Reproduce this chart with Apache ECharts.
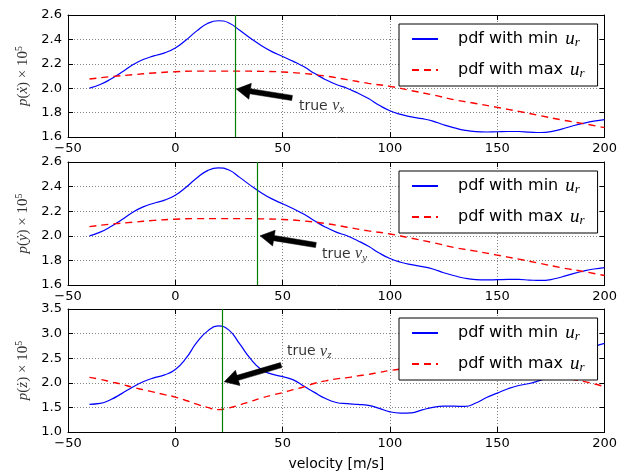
<!DOCTYPE html>
<html><head><meta charset="utf-8">
<script src="https://cdn.jsdelivr.net/npm/echarts@6/dist/echarts.min.js"></script>
<style>html,body{margin:0;padding:0;background:#fff}#c{width:620px;height:475px}</style>
</head><body><div id="c"></div>
<script>
// velocity grids (m/s)
const velFine = [-40,-35,-30,-25,-20,-15,-10,-5,0,5,10,15,20,25,30,35,40,45,50,55,60,65,70,75,80,85,90,95,100,105,110,115,120,125,130,135,140,145,150,155,160,165,170,175,180,185,190,195,200];
const velCoarse = [-40,-30,-20,-10,0,10,20,30,40,50,60,70,80,90,100,110,120,130,140,150,160,170,180,190,200];

// p(x_dot) x 1e5
const pdfMinX = [2.00,2.03,2.075,2.13,2.19,2.235,2.265,2.29,2.33,2.395,2.47,2.53,2.553,2.535,2.475,2.41,2.35,2.30,2.26,2.22,2.175,2.12,2.07,2.03,2.00,1.96,1.915,1.86,1.815,1.785,1.765,1.75,1.73,1.70,1.675,1.655,1.644,1.641,1.643,1.645,1.645,1.640,1.637,1.644,1.665,1.69,1.712,1.73,1.742];
const pdfMaxX = [2.075,2.095,2.11,2.125,2.135,2.14,2.14,2.14,2.138,2.133,2.12,2.10,2.07,2.04,2.015,1.98,1.945,1.905,1.875,1.843,1.81,1.775,1.74,1.71,1.677];

// p(y_dot) x 1e5
const pdfMinY = [2.00,2.03,2.075,2.13,2.19,2.235,2.265,2.29,2.33,2.395,2.47,2.53,2.553,2.535,2.475,2.41,2.35,2.30,2.26,2.22,2.175,2.12,2.07,2.03,2.00,1.96,1.915,1.86,1.815,1.785,1.765,1.75,1.73,1.70,1.675,1.655,1.644,1.641,1.643,1.645,1.645,1.640,1.637,1.644,1.665,1.69,1.712,1.73,1.742];
const pdfMaxY = [2.075,2.095,2.11,2.125,2.135,2.14,2.14,2.14,2.138,2.133,2.12,2.10,2.07,2.04,2.015,1.98,1.945,1.905,1.875,1.843,1.81,1.775,1.74,1.71,1.677];

// p(z_dot) x 1e5
const pdfMinZ = [1.563,1.58,1.66,1.78,1.91,2.02,2.10,2.16,2.27,2.50,2.82,3.05,3.155,3.07,2.79,2.49,2.27,2.175,2.125,2.06,1.93,1.80,1.68,1.60,1.575,1.562,1.54,1.48,1.41,1.385,1.39,1.45,1.50,1.525,1.525,1.52,1.59,1.70,1.79,1.88,1.945,1.985,2.05,2.12,2.25,2.42,2.60,2.73,2.80];
const pdfMaxZ = [2.11,2.07,2.02,1.97,1.91,1.86,1.81,1.76,1.71,1.64,1.565,1.50,1.455,1.49,1.55,1.62,1.69,1.75,1.80,1.86,1.92,1.99,2.04,2.08,2.105,2.14,2.17,2.21,2.25,2.28,2.30,2.32,2.34,2.35,2.36,2.365,2.36,2.35,2.33,2.30,2.27,2.23,2.19,2.15,2.11,2.07,2.03,1.98,1.92];

// true velocities (green lines)
const trueV = [27.8, 38.3, 22.0];
const trueSub = ['x','y','z'];
const yDotNames = ['\u1E8B','\u1E8F','\u017C'];
// y axis ranges [min, max, step]
const yRanges = [[1.6,2.6,0.2],[1.6,2.6,0.2],[1.0,3.5,0.5]];
// annotation anchors (data coords)
const arrowTip = [[28.4,1.993],[39.5,2.0],[22.8,2.02]];
const arrowTail = [[54.4,1.92],[65.5,1.925],[49.3,2.36]];
const noteAt = [[57.6,1.854],[68.3,1.85],[52.0,2.63]];

const minSeries = [pdfMinX, pdfMinY, pdfMinZ];
const maxSeries = [pdfMaxX, pdfMaxY, pdfMaxZ];
const maxVel = [velCoarse, velCoarse, velFine];

const zip = (xs, ys) => xs.map((x, i) => [x, ys[i]]);
const minus = v => String(v).replace('-', '\u2212');

const gridTops = [15, 162, 309];
const gridHeights = [122, 123, 123];
const legendTops = [24, 171, 318];
const FONT = 'DejaVu Sans';
const MATH = 'Liberation Serif';

function renderArrow(params, api) {
  const a = api.coord([api.value(0), api.value(1)]);
  const b = api.coord([api.value(2), api.value(3)]);
  const dx = b[0] - a[0], dy = b[1] - a[1];
  const L = Math.hypot(dx, dy) || 1;
  const ux = dx / L, uy = dy / L, nx = -uy, ny = ux;
  const hl = 14, hw = 8, sw = 2.6;
  const bx = b[0] - ux * hl, by = b[1] - uy * hl;
  const pts = [
    [a[0] + nx * sw, a[1] + ny * sw],
    [bx + nx * sw, by + ny * sw],
    [bx + nx * hw, by + ny * hw],
    [b[0], b[1]],
    [bx - nx * hw, by - ny * hw],
    [bx - nx * sw, by - ny * sw],
    [a[0] - nx * sw, a[1] - ny * sw]
  ];
  return {type: 'polygon', shape: {points: pts}, style: {fill: '#000', stroke: '#000', lineWidth: 0.5}};
}

const grid = [], xAxis = [], yAxis = [], series = [], legend = [];
for (let i = 0; i < 3; i++) {
  grid.push({left: 68, top: gridTops[i], width: 539, height: gridHeights[i], show: false});
  const tick = {show: true, inside: true, length: 5, lineStyle: {color: '#000', width: 1}};
  const axLine = {show: true, onZero: false, lineStyle: {color: '#000', width: 1}};
  xAxis.push({
    type: 'value', gridIndex: i, position: 'bottom', min: -50, max: 200, interval: 50,
    axisLine: axLine, axisTick: tick,
    axisLabel: {margin: 5, fontFamily: FONT, fontSize: 13, color: '#000', formatter: minus},
    splitLine: {show: true, lineStyle: {color: '#666', width: 0.8, type: [1, 2]}},
    name: i === 2 ? 'velocity [m/s]' : '', nameLocation: 'middle', nameGap: 25,
    nameTextStyle: {fontFamily: FONT, fontSize: 14, color: '#000'}
  });
  xAxis.push({
    type: 'value', gridIndex: i, position: 'top', min: -50, max: 200, interval: 50,
    axisLine: axLine, axisTick: tick, axisLabel: {show: false}, splitLine: {show: false}
  });
  const [ymin, ymax, ystep] = yRanges[i];
  yAxis.push({
    type: 'value', gridIndex: i, position: 'left', min: ymin, max: ymax, interval: ystep,
    axisLine: axLine, axisTick: tick,
    axisLabel: {margin: 6, fontFamily: FONT, fontSize: 13, color: '#000', formatter: v => v.toFixed(1)},
    splitLine: {show: true, lineStyle: {color: '#666', width: 0.8, type: [1, 2]}},
    name: '{i|p}{r|(}{i|' + yDotNames[i] + '}{r|) \u00D7 10}{sup|5}',
    nameLocation: 'middle', nameRotate: 90, nameGap: 35,
    nameTextStyle: {color: '#333', rich: {
      i: {fontFamily: MATH, fontStyle: 'italic', fontSize: 15, lineHeight: 18, color: '#333'},
      r: {fontFamily: MATH, fontSize: 15, lineHeight: 18, color: '#333'},
      sup: {fontFamily: MATH, fontSize: 10, lineHeight: 11, verticalAlign: 'top', color: '#333'}
    }}
  });
  yAxis.push({
    type: 'value', gridIndex: i, position: 'right', min: ymin, max: ymax, interval: ystep,
    axisLine: axLine, axisTick: tick, axisLabel: {show: false}, splitLine: {show: false}
  });
  series.push({
    name: 'min', type: 'line', xAxisIndex: 2 * i, yAxisIndex: 2 * i,
    data: zip(velFine, minSeries[i]), showSymbol: false, symbol: 'none', smooth: 0.5,
    lineStyle: {color: '#0000ff', width: 1.2}, itemStyle: {color: '#0000ff'}, z: 3,
    markLine: {silent: true, symbol: 'none', label: {show: false},
      lineStyle: {color: '#008000', width: 1.2, type: 'solid'},
      data: [{xAxis: trueV[i]}]}
  });
  series.push({
    name: 'max', type: 'line', xAxisIndex: 2 * i, yAxisIndex: 2 * i,
    data: zip(maxVel[i], maxSeries[i]), showSymbol: false, symbol: 'none', smooth: 0.5,
    lineStyle: {color: '#ff0000', width: 1.4, type: [7, 5]}, itemStyle: {color: '#ff0000'}, z: 3
  });
  series.push({
    name: 'note' + i, type: 'scatter', xAxisIndex: 2 * i, yAxisIndex: 2 * i,
    data: [noteAt[i]], symbolSize: 0, silent: true, z: 5,
    label: {show: true, position: 'right', distance: 0,
      formatter: '{t|true }{v|v}{s|' + trueSub[i] + '}',
      rich: {
        t: {fontFamily: FONT, fontSize: 14, color: '#000', lineHeight: 18},
        v: {fontFamily: MATH, fontStyle: 'italic', fontSize: 16, color: '#000', lineHeight: 18},
        s: {fontFamily: MATH, fontStyle: 'italic', fontSize: 11, color: '#000', lineHeight: 10, verticalAlign: 'bottom'}
      }}
  });
  series.push({
    name: 'arrow' + i, type: 'custom', xAxisIndex: 2 * i, yAxisIndex: 2 * i,
    data: [[arrowTail[i][0], arrowTail[i][1], arrowTip[i][0], arrowTip[i][1]]],
    encode: {x: [0, 2], y: [1, 3]}, renderItem: renderArrow, silent: true, z: 6
  });
  legend.push({
    left: 399, top: legendTops[i], orient: 'vertical', data: ['min', 'max'],
    selectedMode: false, itemWidth: 26, itemHeight: 14, itemGap: 11,
    itemStyle: {opacity: 0},
    padding: [5, 13, 6, 12], borderColor: '#000', borderWidth: 1, backgroundColor: '#fff',
    formatter: n => 'pdf with ' + n + ' {u|u}{s|r}',
    textStyle: {fontFamily: FONT, fontSize: 16, color: '#000', lineHeight: 20, padding: [0, 0, 0, 15], rich: {
      u: {fontFamily: MATH, fontStyle: 'italic', fontSize: 19, color: '#000', lineHeight: 20, padding: [0, 0, 0, 2]},
      s: {fontFamily: MATH, fontStyle: 'italic', fontSize: 13, color: '#000', lineHeight: 12, verticalAlign: 'bottom'}
    }}
  });
}

const chart = echarts.init(document.getElementById('c'), null, {renderer: 'canvas'});
chart.setOption({animation: false, backgroundColor: '#fff', grid, xAxis, yAxis, series, legend});
</script></body></html>
